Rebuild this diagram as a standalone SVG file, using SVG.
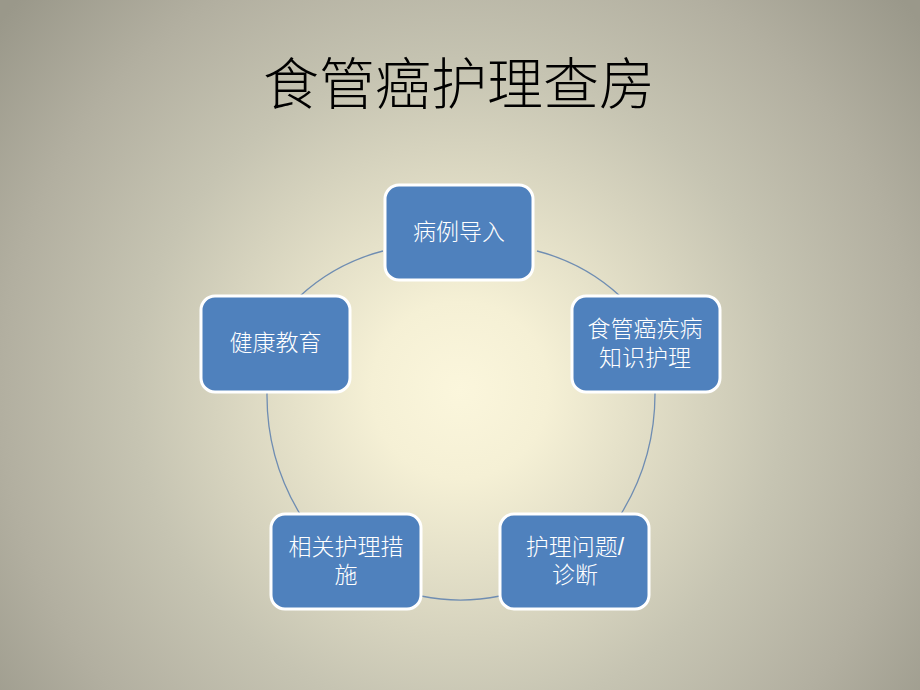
<svg xmlns="http://www.w3.org/2000/svg" width="920" height="690" viewBox="0 0 920 690">
<defs>
<radialGradient id="bg" gradientUnits="userSpaceOnUse" cx="460" cy="390" r="590">
<stop offset="0" stop-color="#fbf6dc"/>
<stop offset="0.15" stop-color="#f5f0d5"/>
<stop offset="0.55" stop-color="#c6c4b2"/>
<stop offset="0.78" stop-color="#b2afa0"/>
<stop offset="1" stop-color="#9a988a"/>
</radialGradient>
<style>
.node rect{fill:#4f81bd;stroke:#ffffff;stroke-width:3}
.node text{fill:#ffffff;font-family:"Liberation Sans","Noto Sans CJK SC",sans-serif;font-size:23px;font-weight:300;text-anchor:middle}
.conn path{fill:none;stroke:#6f8db2;stroke-width:1.3}
.title{font-family:"Liberation Serif","Noto Sans CJK SC",serif;font-size:56px;font-weight:300;fill:#000000;text-anchor:middle}
</style>
</defs>
<rect x="0" y="0" width="920" height="690" fill="url(#bg)"/>
<text class="title" x="459" y="104">食管癌护理查房</text>
<g id="connectors" class="conn">
<path d="M383,251 A194,194 0 0 0 300,296"/>
<path d="M537,251 A194,194 0 0 1 620,296"/>
<path d="M267,393 A230,230 0 0 0 300,514"/>
<path d="M655,393 A230,230 0 0 1 621,514"/>
<path d="M421,596 A194,194 0 0 0 500,596"/>
</g>
<g id="node1" class="node">
<rect x="385" y="185" width="148" height="95" rx="14"/>
<text x="459" y="240">病例导入</text>
</g>
<g id="node2" class="node">
<rect x="572" y="296" width="148" height="96" rx="14"/>
<text x="645" y="337">食管癌疾病</text>
<text x="645" y="366">知识护理</text>
</g>
<g id="node3" class="node">
<rect x="500" y="514" width="149" height="95" rx="14"/>
<text x="575" y="555">护理问题/</text>
<text x="575" y="583">诊断</text>
</g>
<g id="node4" class="node">
<rect x="271" y="514" width="150" height="95" rx="14"/>
<text x="346" y="555">相关护理措</text>
<text x="346" y="583">施</text>
</g>
<g id="node5" class="node">
<rect x="201" y="296" width="149" height="96" rx="14"/>
<text x="275.5" y="351">健康教育</text>
</g>
</svg>
